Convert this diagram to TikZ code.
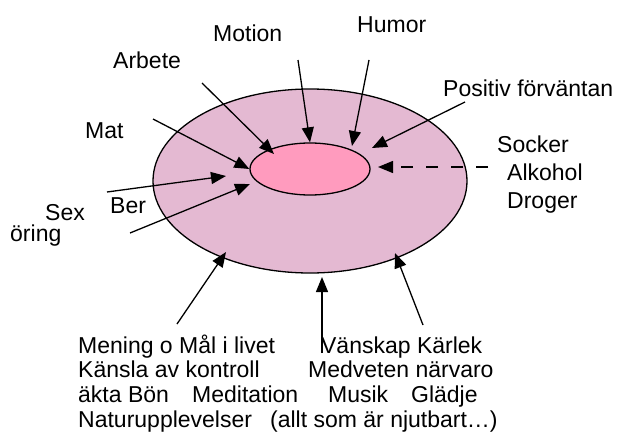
\documentclass[tikz,border=0pt]{standalone}
\usepackage{fontspec}
\setmainfont{Liberation Sans}
\usetikzlibrary{arrows.meta,shapes.geometric}
\definecolor{ringrosa}{RGB}{228,185,210}
\definecolor{kernrosa}{RGB}{255,155,190}

\begin{document}
\begin{tikzpicture}[x=1pt,y=-1pt,font=\fontsize{23}{25}\selectfont,
  pil/.style={-{Triangle[length=15pt,width=12pt]},line width=1.3pt},
  etikett/.style={anchor=base west,inner sep=0pt},
  ring/.style={ellipse,draw,line width=1.3pt,inner sep=0pt}]
\useasboundingbox (0,0) rectangle (619,439);
% ellipses
\node[ring,fill=ringrosa,minimum width=314pt,minimum height=184pt] (outer) at (310,181) {};
\node[ring,fill=kernrosa,minimum width=120pt,minimum height=52pt] (inner) at (310,169) {};
% labels
\node[etikett] (motion) at (213,41) {Motion};
\node[etikett] (humor) at (357,32) {Humor};
\node[etikett] (arbete) at (113,68) {Arbete};
\node[etikett] (positiv) at (443,96) {Positiv förväntan};
\node[etikett] (mat) at (85,138) {Mat};
\node[etikett] (socker) at (497,152) {Socker};
\node[etikett] (alkohol) at (507,180) {Alkohol};
\node[etikett] (droger) at (507,208) {Droger};
\node[etikett] (ber) at (110,213) {Ber};
\node[etikett] (sex) at (45,220) {Sex};
\node[etikett] (oring) at (10,241) {öring};
\node[etikett] (rad1) at (78,353) {\makebox[243pt][l]{Mening o Mål i livet}Vänskap Kärlek};
\node[etikett] (rad2) at (78,377.7) {\makebox[230pt][l]{Känsla av kontroll}Medveten närvaro};
\node[etikett] (rad3) at (78,402.3) {\makebox[114pt][l]{äkta Bön}\makebox[136pt][l]{Meditation}\makebox[83pt][l]{Musik}Glädje};
\node[etikett] (rad4) at (78,427) {\makebox[192pt][l]{Naturupplevelser}(allt som är njutbart…)};
% arrow ends
\coordinate (matS) at (153,119);
\coordinate (arbS) at (202,83);  \coordinate (arbT) at (274,154);
\coordinate (motS) at (298,60);
\coordinate (humS) at (369,60);  \coordinate (humT) at (352,146);
\coordinate (posS) at (465,102); \coordinate (posT) at (372,148);
\coordinate (sockS) at (488,167); \coordinate (sockT) at (378,167);
\coordinate (berS) at (107,192); \coordinate (berT) at (226,176);
\coordinate (sexS) at (130,233); \coordinate (sexT) at (250,184);
\coordinate (menS) at (177,324); \coordinate (menT) at (226,252);
\coordinate (vanS) at (322,353); \coordinate (vanT) at (322,277);
\coordinate (karS) at (423,325); \coordinate (karT) at (395,253);
% arrows
\draw[pil] (matS) -- (inner.west);
\draw[pil] (arbS) -- (arbT);
\draw[pil] (motS) -- (inner.north);
\draw[pil] (humS) -- (humT);
\draw[pil] (posS) -- (posT);
\draw[pil,dash pattern=on 12pt off 13pt] (sockS) -- (sockT);
\draw[pil] (berS) -- (berT);
\draw[pil] (sexS) -- (sexT);
\draw[pil] (menS) -- (menT);
\draw[pil] (vanS) -- (vanT);
\draw[pil] (karS) -- (karT);
\end{tikzpicture}
\end{document}
